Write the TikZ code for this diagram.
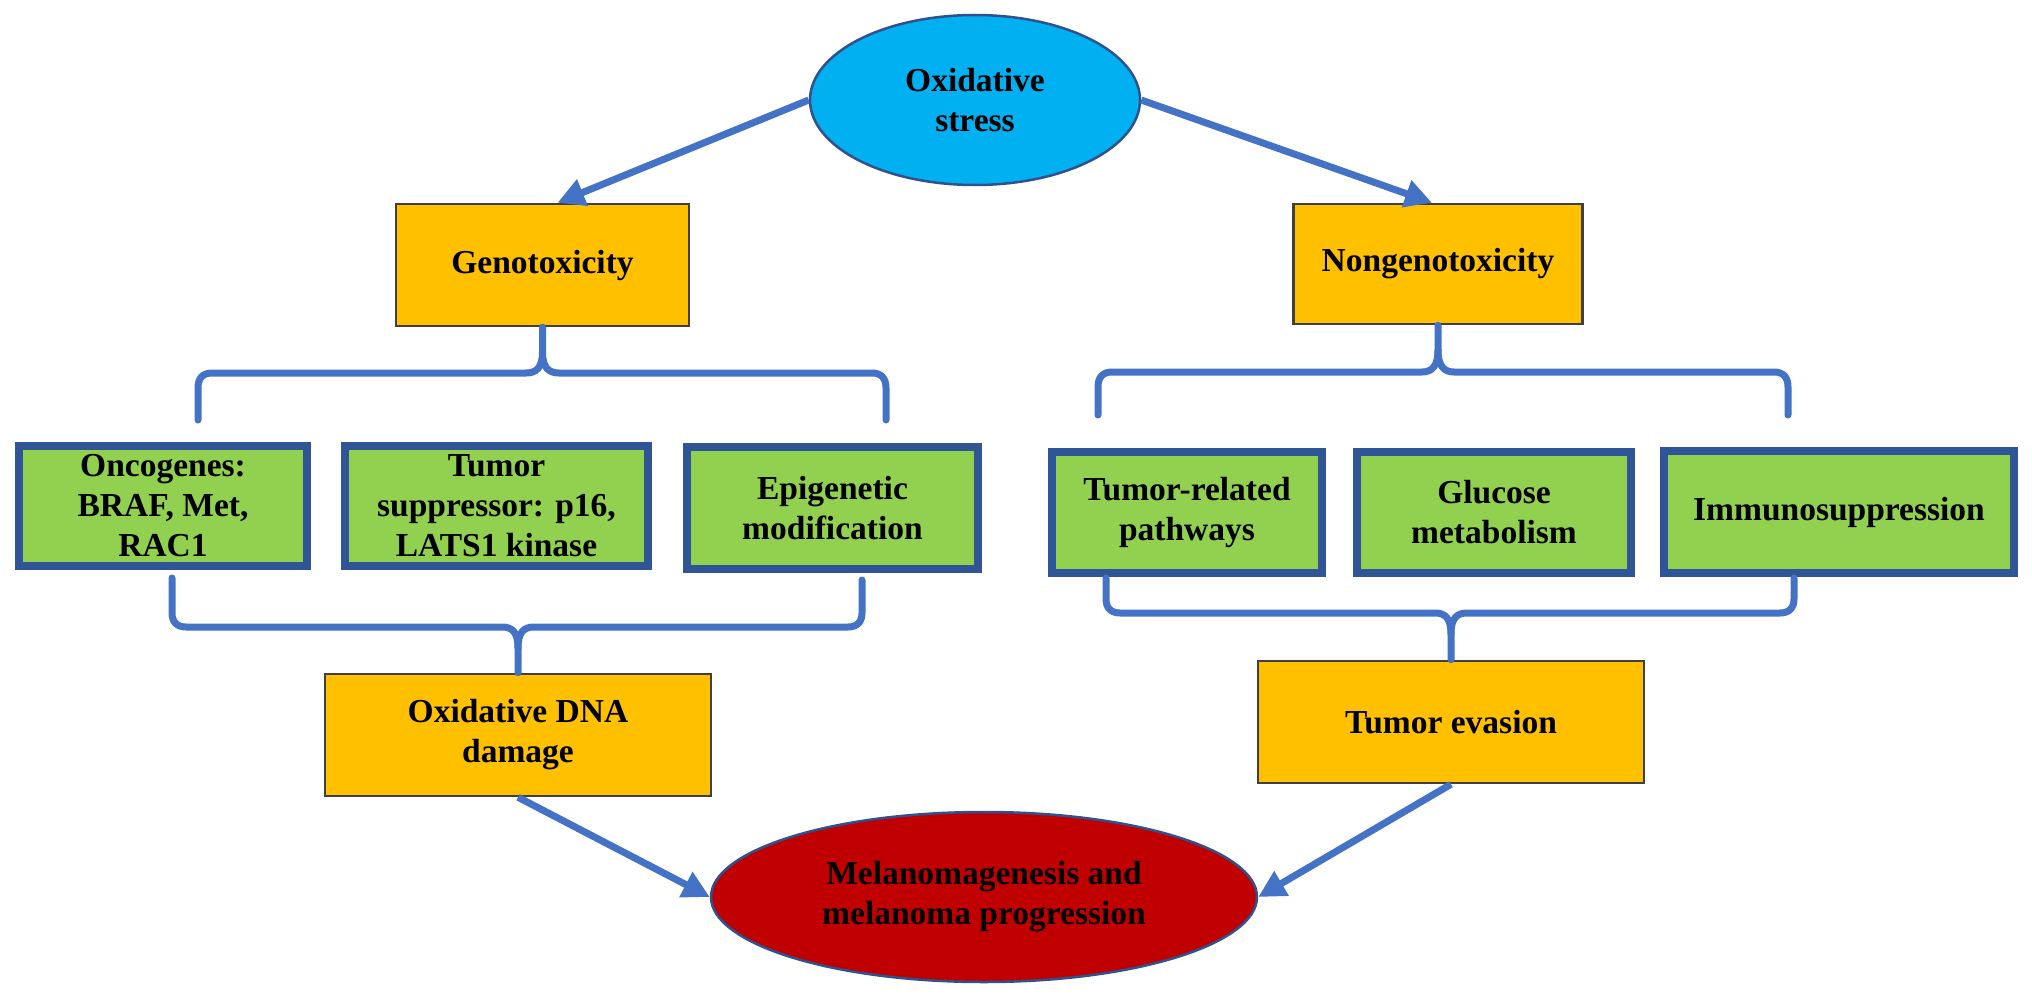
\documentclass[tikz,border=0pt]{standalone}
\usepackage{fontspec}
\setmainfont{Liberation Serif}
\usetikzlibrary{arrows.meta,calc,shapes.geometric}
\definecolor{lineblue}{HTML}{4472C4}
\definecolor{boxgreen}{HTML}{92D050}
\definecolor{greenborder}{HTML}{2F5597}
\definecolor{boxorange}{HTML}{FFC000}
\definecolor{orangeborder}{HTML}{404040}
\definecolor{ellblue}{HTML}{00B0F0}
\definecolor{ellred}{HTML}{C00000}
\definecolor{ellborder}{HTML}{2F528F}
\begin{document}
\begin{tikzpicture}[x=1pt,y=-1pt,
  every node/.style={font=\fontsize{33.5pt}{40pt}\selectfont\bfseries, align=center, inner sep=0pt},
  greenbox/.style={rectangle, draw=greenborder, line width=8pt, fill=boxgreen},
  orangebox/.style={rectangle, draw=orangeborder, line width=2.5pt, fill=boxorange},
  ellnode/.style={ellipse, draw=ellborder, line width=2.5pt},
  conn/.style={draw=lineblue, line width=7pt, -{Triangle[length=27pt,width=27pt]}},
  brace/.style={draw=lineblue, line width=7pt, line join=round, line cap=round},
]
\fill[white] (0,0) rectangle (2032,998);
\useasboundingbox (0,0) rectangle (2032,998);

% ellipses
\node[ellnode, fill=ellblue, minimum width=330pt, minimum height=170pt] (topell) at (975,100) {Oxidative\\stress};
\node[ellnode, fill=ellred, minimum width=546pt, minimum height=170pt] (botell) at (984,897) {Melanomagenesis and\\melanoma progression};

% orange boxes
\node[orangebox, minimum width=293pt, minimum height=122pt] (geno) at (542.5,265) {Genotoxicity};
\node[orangebox, minimum width=289pt, minimum height=120pt] (nongeno) at (1438,264) {Nongenotoxicity};
\node[orangebox, minimum width=386pt, minimum height=122pt] (oxdna) at (518,735) {Oxidative DNA\\damage};
\node[orangebox, minimum width=386pt, minimum height=122pt] (tev) at (1451,722) {Tumor evasion};

% green boxes
\node[greenbox, minimum width=288pt, minimum height=120pt] (onco) at (163,506) {Oncogenes:\\BRAF, Met,\\RAC1};
\node[greenbox, minimum width=303pt, minimum height=120pt] (tsup) at (496.5,506) {Tumor\\suppressor: p16,\\LATS1 kinase};
\node[greenbox, minimum width=291pt, minimum height=122pt] (epi) at (832.5,508) {Epigenetic\\modification};
\node[greenbox, minimum width=270pt, minimum height=121pt] (trel) at (1187,512.5) {Tumor-related\\pathways};
\node[greenbox, minimum width=274pt, minimum height=121pt] (gluc) at (1494,512.5) {Glucose\\metabolism};
\node[greenbox, minimum width=350pt, minimum height=122pt] (immu) at (1839,512) {Immunosuppression};

% top-left brace
\draw[brace] (geno.south) -- (542.5,352) .. controls (542.5,368) and (536,373) .. (526,373) -- (212,373) .. controls (203,373) and (198,378) .. (198,388) -- (198,420);
\draw[brace] (542.5,352) .. controls (542.5,368) and (549,373) .. (559,373) -- (872,373) .. controls (881,373) and (886,378) .. (886,388) -- (886,420);

% top-right brace
\draw[brace] (nongeno.south) -- (1438,350) .. controls (1438,366) and (1432,372) .. (1422,372) -- (1112,372) .. controls (1103,372) and (1098,377) .. (1098,387) -- (1098,415);
\draw[brace] (1438,350) .. controls (1438,366) and (1444,372) .. (1454,372) -- (1774,372) .. controls (1783,372) and (1788,377) .. (1788,387) -- (1788,415);

% bottom-left brace
\draw[brace] (172,578) -- (172,613) .. controls (172,622) and (177,627) .. (186,627) -- (502,627) .. controls (512,627) and (518,632) .. (518,648) -- (oxdna.north);
\draw[brace] (862,580) -- (862,613) .. controls (862,622) and (857,627) .. (848,627) -- (534,627) .. controls (524,627) and (518,632) .. (518,648);

% bottom-right brace
\draw[brace] (1106,578) -- (1106,599) .. controls (1106,608) and (1111,613) .. (1120,613) -- (1435,613) .. controls (1445,613) and (1451,618) .. (1451,634) -- (tev.north);
\draw[brace] (1794,578) -- (1794,599) .. controls (1794,608) and (1789,613) .. (1780,613) -- (1467,613) .. controls (1457,613) and (1451,618) .. (1451,634);

% arrows
\draw[conn] (topell.west) -- ($(geno.north)+(15,0)$);
\draw[conn] (topell.east) -- ($(nongeno.north)+(-6,0)$);
\draw[conn] (oxdna.south) -- (botell.west);
\draw[conn] (tev.south) -- (botell.east);
\end{tikzpicture}
\end{document}
